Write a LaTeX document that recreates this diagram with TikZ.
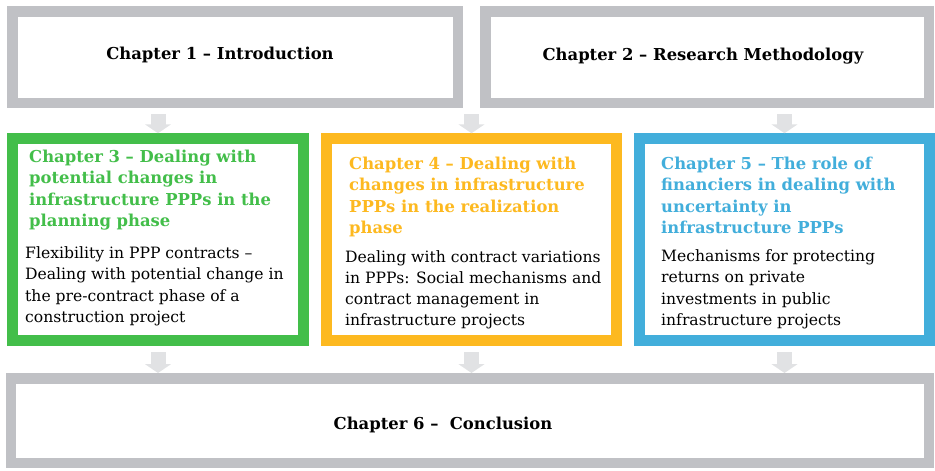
\documentclass[tikz,border=0pt]{standalone}
\usepackage{fontspec}
\setmainfont{DejaVu Serif}
\usetikzlibrary{arrows.meta}
\definecolor{frame}{HTML}{C0C1C5}
\definecolor{arr}{HTML}{E1E2E4}
\definecolor{cgreen}{HTML}{43BE4A}
\definecolor{corange}{HTML}{FDB920}
\definecolor{cblue}{HTML}{42AEDB}
\tikzset{
  chbox/.style={draw=#1, line width=10.5pt, fill=white, inner sep=0pt},
  blockarr/.style={draw=arr, line width=15pt, -{Triangle[width=26pt,length=9pt]}},
  headtxt/.style={inner sep=0pt, anchor=north west, align=left, font=\bfseries\fontsize{16.4}{21.6}\selectfont},
  bodytxt/.style={inner sep=0pt, anchor=north west, align=left, font=\fontsize{15.6}{21.3}\selectfont},
  titletxt/.style={inner sep=0pt, font=\bfseries\fontsize{16.4}{19}\selectfont}
}
\begin{document}
\begin{tikzpicture}[x=1pt,y=-1pt]
\useasboundingbox (0,0) rectangle (935,471);
% frames
\node[chbox=frame, minimum width=445.5pt, minimum height=91.5pt] (c1) at (235,57) {};
\node[chbox=frame, minimum width=443.5pt, minimum height=91.5pt] (c2) at (707,57) {};
\node[chbox=cgreen, minimum width=291pt, minimum height=202pt] (c3) at (158,239.5) {};
\node[chbox=corange, minimum width=290pt, minimum height=202pt] (c4) at (471.5,239.5) {};
\node[chbox=cblue, minimum width=290pt, minimum height=202pt] (c5) at (784.5,239.5) {};
\node[chbox=frame, minimum width=918pt, minimum height=84.5pt] (c6) at (470,420.5) {};
% titles
\node[titletxt] (t1) at (220,55) {Chapter 1 – Introduction};
\node[titletxt] (t2) at (703,56) {Chapter 2 – Research Methodology};
\node[titletxt] (t6) at (443,425) {Chapter 6 –\ \ Conclusion};
% chapter 3
\node[headtxt, text=cgreen] (h3) at (29,149.5) {Chapter 3 – Dealing with\\potential changes in\\infrastructure PPPs in the\\planning phase};
\node[bodytxt] (b3) at (25,246.5) {Flexibility in PPP contracts –\\Dealing with potential change in\\the pre-contract phase of a\\construction project};
% chapter 4
\node[headtxt, text=corange] (h4) at (349,156.5) {Chapter 4 – Dealing with\\changes in infrastructure\\PPPs in the realization\\phase};
\node[bodytxt] (b4) at (345,250) {Dealing with contract variations\\in PPPs: Social mechanisms and\\contract management in\\infrastructure projects};
% chapter 5
\node[headtxt, text=cblue] (h5) at (661,156.5) {Chapter 5 – The role of\\financiers in dealing with\\uncertainty in\\infrastructure PPPs};
\node[bodytxt] (b5) at (661,249.5) {Mechanisms for protecting\\returns on private\\investments in public\\infrastructure projects};
% arrows
\draw[blockarr, shorten <=6pt] (c1.south -| c3.north) -- (c3.north);
\draw[blockarr, shorten <=6pt] (c1.south -| c4.north) -- (c4.north);
\draw[blockarr, shorten <=6pt] (c2.south -| c5.north) -- (c5.north);
\draw[blockarr, shorten <=6pt] (c3.south) -- (c3.south |- c6.north);
\draw[blockarr, shorten <=6pt] (c4.south) -- (c4.south |- c6.north);
\draw[blockarr, shorten <=6pt] (c5.south) -- (c5.south |- c6.north);
\end{tikzpicture}
\end{document}
